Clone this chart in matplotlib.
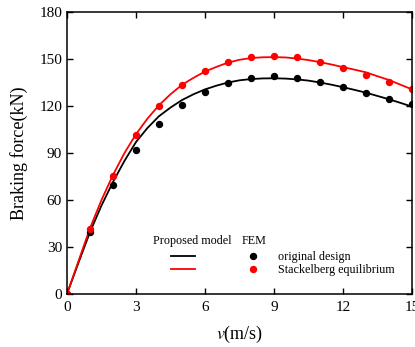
import matplotlib
matplotlib.use('Agg')
import matplotlib.pyplot as plt
from matplotlib.lines import Line2D

plt.rcParams['font.family'] = ['Liberation Serif', 'DejaVu Serif']
plt.rcParams['mathtext.fontset'] = 'stix'

# model curves (read every 0.5 m/s)
v_model = [0, 0.5, 1, 1.5, 2, 2.5, 3, 3.5, 4, 4.5, 5, 5.5, 6, 6.5, 7, 7.5,
           8, 8.5, 9, 9.5, 10, 10.5, 11, 11.5, 12, 12.5, 13, 13.5, 14, 14.5, 15]
model_orig = [0, 20, 39.5, 56.5, 71.5, 85, 97, 106, 113.5, 119, 123.8, 127.5,
              130.6, 133, 135, 136.4, 137.2, 137.6, 137.7, 137.5, 137, 136.2,
              135, 133.6, 132, 130.3, 128.5, 126.4, 124.3, 122, 119.6]
model_stack = [0, 21, 42, 60, 76, 90, 102, 112, 120.5, 127.5, 133.5, 138,
               142, 145, 147.7, 149.5, 150.6, 151.1, 151.2, 151, 150.3, 149.3,
               148, 146.5, 144.8, 143.2, 141.5, 139, 136.6, 133.6, 130.6]

# FEM points
v_fem = [0, 1, 2, 3, 4, 5, 6, 7, 8, 9, 10, 11, 12, 13, 14, 15]
fem_orig = [0, 39.6, 69.4, 91.9, 108.5, 120.4, 128.8, 135, 137.6, 138.9,
            137.8, 135.3, 131.9, 128.5, 124.7, 121.2]
fem_stack = [0, 41.3, 75.5, 101.5, 120.2, 133.2, 142.4, 148, 151, 152,
             151, 148, 144.2, 139.8, 135.1, 130.6]

fig = plt.figure(figsize=(4.15, 3.47), dpi=100)
ax = fig.add_axes([0.1614, 0.1527, 0.8314, 0.8127])

ax.plot(v_model, model_orig, color='black', lw=1.3)
ax.plot(v_model, model_stack, color='red', lw=1.3)
ax.plot(v_fem, fem_orig, 'o', color='black', ms=4.3)
ax.plot(v_fem, fem_stack, 'o', color='red', ms=4.3)

ax.set_xlim(0, 15)
ax.set_ylim(0, 180)
ax.set_xticks([0, 3, 6, 9, 12, 15])
ax.set_yticks([0, 30, 60, 90, 120, 150, 180])
ax.tick_params(direction='in', top=True, right=True, length=4.5, width=1,
               labelsize=11)
ax.tick_params(axis='x', pad=5)
for s in ax.spines.values():
    s.set_linewidth(1.1)

ax.set_xlabel('$v$(m/s)', fontsize=13, labelpad=7)
ax.set_ylabel('Braking force(kN)', fontsize=13, labelpad=8)

handles = [Line2D([], [], color='black', lw=1.3),
           Line2D([], [], color='red', lw=1.3),
           Line2D([], [], ls='', marker='o', color='black', ms=4.3),
           Line2D([], [], ls='', marker='o', color='red', ms=4.3)]
labels = [' ', ' ', 'original design', 'Stackelberg equilibrium']
leg = ax.legend(handles, labels, ncol=2, frameon=False, fontsize=8.7,
                loc='upper left', bbox_to_anchor=(0.301, 0.153),
                handlelength=1.98, handletextpad=1.08, columnspacing=2.5,
                labelspacing=0.12, borderpad=0, borderaxespad=0)

ax.text(0.249, 0.188, 'Proposed model', transform=ax.transAxes,
        fontsize=8.7, va='center')
ax.text(0.507, 0.188, 'FEM', transform=ax.transAxes, fontsize=8.7,
        va='center')

fig.savefig('out.png', dpi=100)
